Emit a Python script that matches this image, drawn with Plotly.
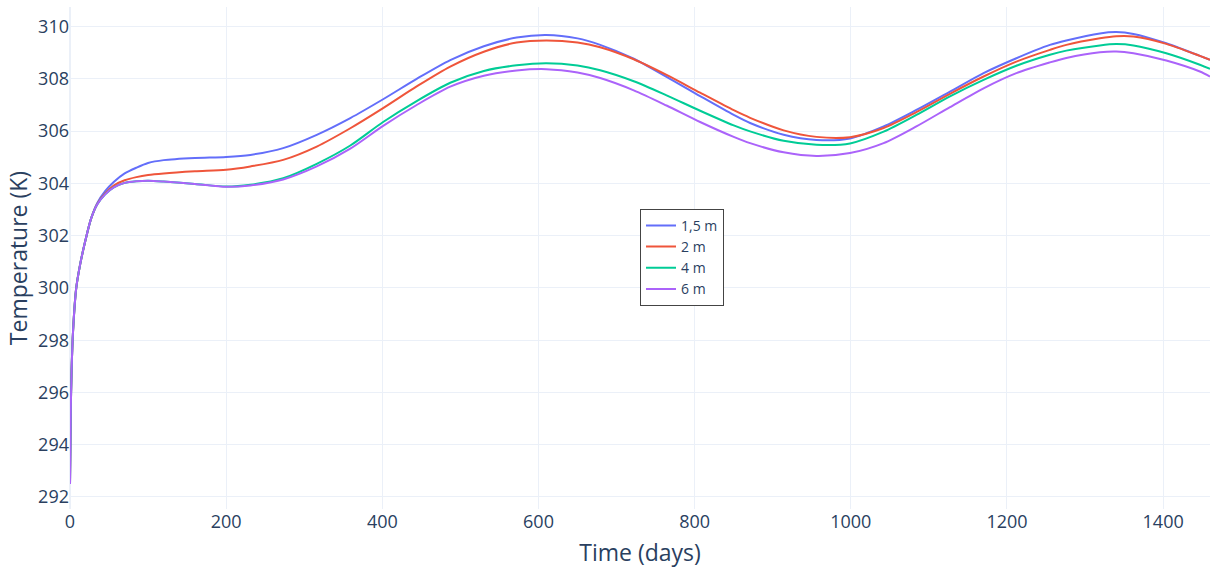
import plotly.graph_objects as go

time_days = [0, 1, 2, 4, 8, 13, 20, 27, 35, 45, 56, 70, 85, 100, 120, 160, 200, 231, 273, 316, 359,
             401, 444, 487, 530, 572, 610, 650, 679, 722, 764, 807, 850, 871, 914, 956, 999,
             1042, 1084, 1127, 1170, 1212, 1255, 1276, 1319, 1340, 1362, 1404, 1447, 1460]

t_1_5m = [292.5, 295.3, 296.8, 298.4, 300.0, 300.9, 301.85, 302.65, 303.25, 303.7, 304.05, 304.38, 304.6,
          304.78, 304.89, 304.97, 305.01, 305.09, 305.35, 305.86, 306.5, 307.22, 308.0, 308.72, 309.25,
          309.58, 309.68, 309.55, 309.3, 308.77, 308.08, 307.34, 306.62, 306.31, 305.86, 305.66, 305.72,
          306.18, 306.81, 307.51, 308.22, 308.79, 309.3, 309.47, 309.74, 309.79, 309.72, 309.36,
          308.88, 308.73]

t_2m = [292.5, 295.3, 296.8, 298.4, 300.0, 300.9, 301.85, 302.65, 303.22, 303.62, 303.92, 304.12, 304.24,
        304.32, 304.38, 304.46, 304.52, 304.65, 304.9, 305.41, 306.11, 306.88, 307.71, 308.47, 309.04,
        309.39, 309.47, 309.39, 309.21, 308.75, 308.15, 307.47, 306.8, 306.51, 306.03, 305.78, 305.77,
        306.12, 306.73, 307.43, 308.09, 308.66, 309.11, 309.3, 309.55, 309.63, 309.62, 309.34,
        308.88, 308.73]

t_4m = [292.5, 295.3, 296.8, 298.4, 300.0, 300.9, 301.85, 302.65, 303.2, 303.58, 303.85, 304.02, 304.08,
        304.1, 304.07, 303.98, 303.88, 303.95, 304.2, 304.75, 305.45, 306.35, 307.15, 307.85, 308.3,
        308.52, 308.6, 308.51, 308.33, 307.91, 307.37, 306.78, 306.22, 305.99, 305.63, 305.48, 305.53,
        305.98, 306.62, 307.33, 307.96, 308.5, 308.92, 309.08, 309.28, 309.33, 309.28, 308.98,
        308.54, 308.38]

t_6m = [292.5, 295.3, 296.8, 298.4, 300.0, 300.9, 301.85, 302.65, 303.2, 303.58, 303.85, 304.02, 304.08,
        304.1, 304.07, 303.98, 303.87, 303.92, 304.15, 304.65, 305.33, 306.2, 307.0, 307.7, 308.12,
        308.32, 308.37, 308.24, 308.03, 307.56, 306.98, 306.35, 305.78, 305.54, 305.19, 305.05, 305.16,
        305.54, 306.18, 306.92, 307.64, 308.22, 308.63, 308.8, 309.02, 309.05, 308.98, 308.7,
        308.28, 308.09]

series_names = ["1,5 m", "2 m", "4 m", "6 m"]
series_values = [t_1_5m, t_2m, t_4m, t_6m]

fig = go.Figure()
for name, vals in zip(series_names, series_values):
    fig.add_trace(go.Scatter(x=time_days, y=vals, mode="lines", name=name,
                             line=dict(shape="spline", smoothing=0.8, width=2)))

fig.update_layout(
    template="plotly_white",
    width=1215, height=568,
    margin=dict(l=70, r=5, t=7, b=59),
    font=dict(family="Open Sans", color="#2a3f5f"),
    legend=dict(x=0.5, y=0.598, xanchor="left", yanchor="top",
                bordercolor="#444", borderwidth=1, bgcolor="white",
                font=dict(size=14)),
    xaxis=dict(title=dict(text="Time (days)", font=dict(size=23)),
               range=[0, 1460], tickfont=dict(size=18), dtick=200),
    yaxis=dict(title=dict(text="Temperature (K)", font=dict(size=23), standoff=4),
               range=[291.54, 310.75], tickfont=dict(size=18), dtick=2),
)

fig.write_html("out.html")
